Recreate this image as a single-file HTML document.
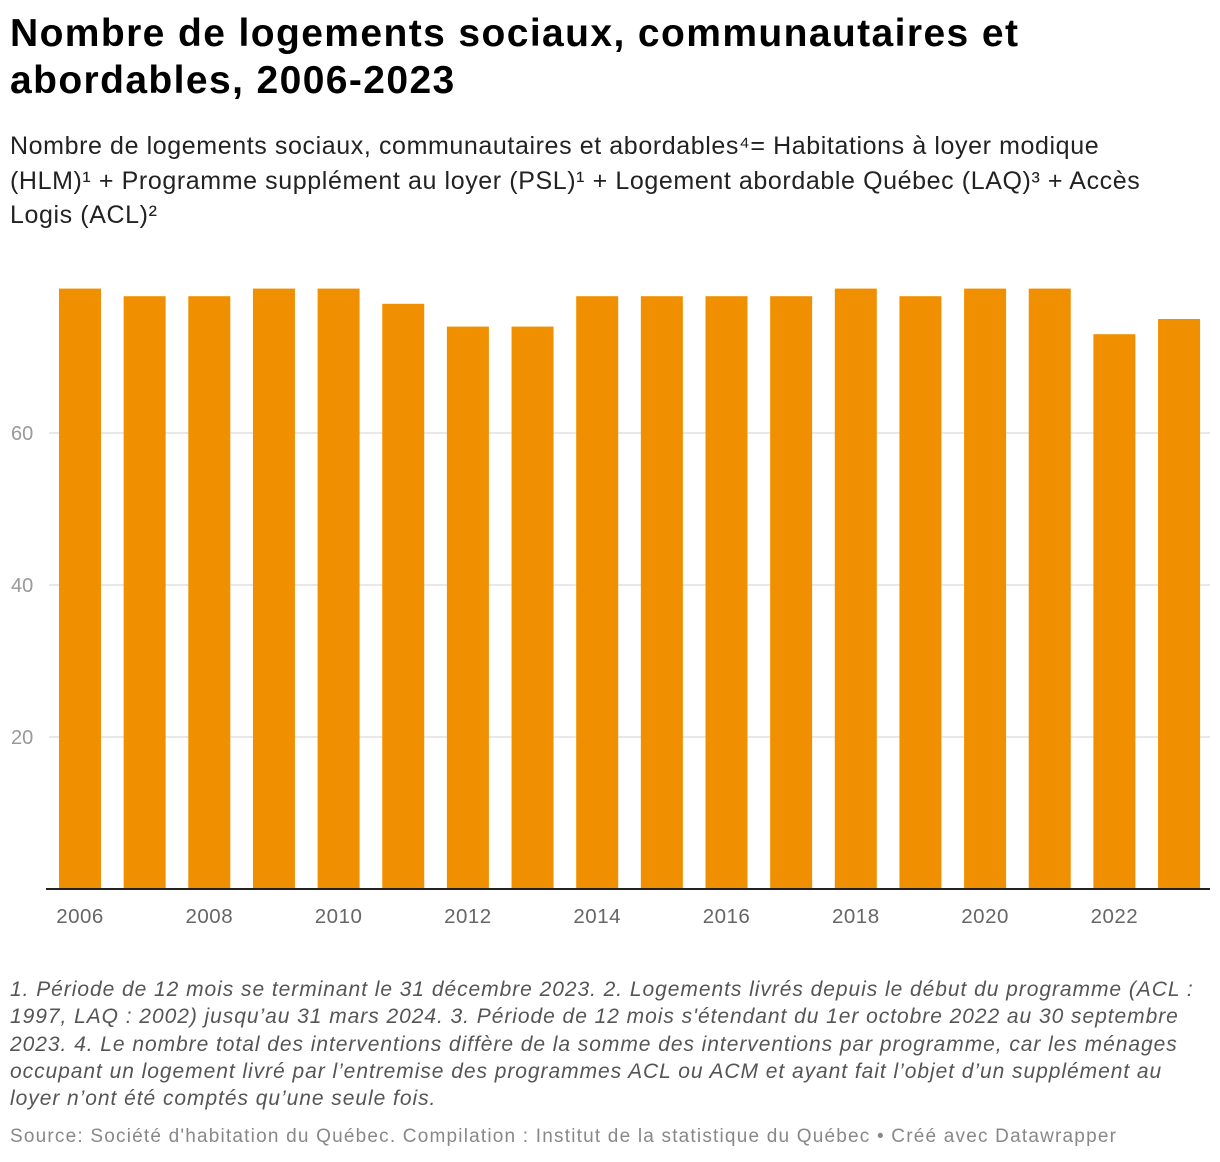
<!DOCTYPE html>
<html><head><meta charset="utf-8">
<style>
body{margin:0;width:1220px;height:1162px;background:#fff;font-family:"Liberation Sans",sans-serif;position:relative;overflow:hidden}
#title{position:absolute;left:10px;top:10px;font-size:39px;font-weight:bold;line-height:47px;color:#000;letter-spacing:1.4px;white-space:nowrap}
#sub{position:absolute;left:10px;top:129px;font-size:25px;line-height:34.5px;color:#222;width:1165px;letter-spacing:0.6px}
#notes{position:absolute;left:10px;top:976px;font-size:21px;font-style:italic;line-height:27.3px;color:#555;width:1205px;letter-spacing:0.95px}
#source{position:absolute;left:10px;top:1126px;font-size:19px;color:#888;letter-spacing:1.2px;white-space:nowrap}
svg{position:absolute;left:0;top:0}
</style></head><body>
<div id="title">Nombre de logements sociaux, communautaires et<br>abordables, 2006-2023</div>
<div id="sub">Nombre de logements sociaux, communautaires et abordables⁴= Habitations à loyer modique (HLM)¹ + Programme supplément au loyer (PSL)¹ + Logement abordable Québec (LAQ)³ + Accès Logis (ACL)²</div>
<svg id="chart" width="1220" height="1162"></svg>
<div id="notes">1. Période de 12 mois se terminant le 31 décembre 2023. 2. Logements livrés depuis le début du programme (ACL : 1997, LAQ : 2002) jusqu’au 31 mars 2024. 3. Période de 12 mois s'étendant du 1er octobre 2022 au 30 septembre 2023. 4. Le nombre total des interventions diffère de la somme des interventions par programme, car les ménages occupant un logement livré par l’entremise des programmes ACL ou ACM et ayant fait l’objet d’un supplément au loyer n’ont été comptés qu’une seule fois.</div>
<div id="source">Source: Société d'habitation du Québec. Compilation : Institut de la statistique du Québec • Créé avec Datawrapper</div>
<script>
const years=[2006,2007,2008,2009,2010,2011,2012,2013,2014,2015,2016,2017,2018,2019,2020,2021,2022,2023];
const values=[79,78,78,79,79,77,74,74,78,78,78,78,79,78,79,79,73,75];
const yTicks=[20,40,60];
const xLabels=[2006,2008,2010,2012,2014,2016,2018,2020,2022];
const svg=document.getElementById('chart');
const NS='http://www.w3.org/2000/svg';
const y0=889, pxPerUnit=7.6, x0=59, step=64.65, bw=42;
const yS=v=>y0-v*pxPerUnit;
const xS=i=>x0+i*step;
function mk(t,a){const e=document.createElementNS(NS,t);for(const k in a)e.setAttribute(k,a[k]);svg.appendChild(e);return e;}
yTicks.forEach(v=>{
  const l=mk('line',{x1:49,x2:1210,y1:yS(v),y2:yS(v),stroke:'#e0e0e0','stroke-width':1.5});
  
  
  const t=mk('text',{x:11,y:yS(v)+7,'font-size':20,fill:'#999','font-family':'Liberation Sans, sans-serif'});
  t.textContent=v;
  
  
});
values.forEach((v,i)=>{
  const r=mk('rect',{x:xS(i),y:yS(v),width:bw,height:v*pxPerUnit,fill:'#f09000'});
  
  
});
const ax=mk('line',{x1:46,x2:1210,y1:y0,y2:y0,stroke:'#222','stroke-width':2});


xLabels.forEach(yr=>{
  const i=years.indexOf(yr);
  const t=mk('text',{x:xS(i)+bw/2,y:923,'text-anchor':'middle','font-size':20.5,fill:'#666','letter-spacing':'0.5','font-family':'Liberation Sans, sans-serif'});
  t.textContent=yr;
  
  
});
</script>
</body></html>
